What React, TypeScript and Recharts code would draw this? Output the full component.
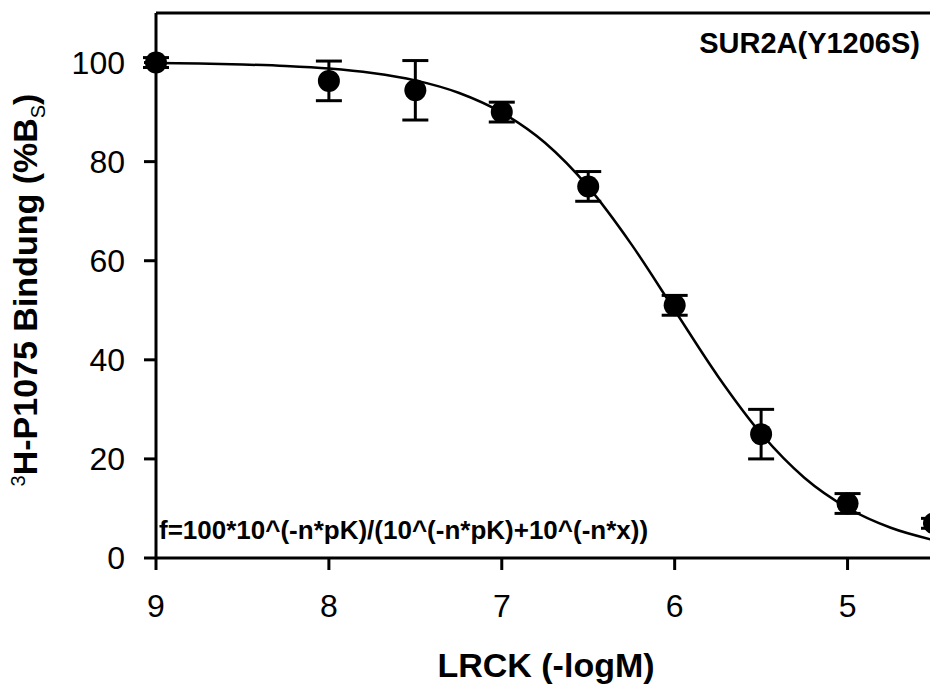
import React from 'react';
import { ComposedChart, Line, Scatter, XAxis, YAxis, ErrorBar, ReferenceLine } from 'recharts';

// measured points: -log concentration vs % specific binding (mean ± SEM)
const logConc = [9, 8, 7.5, 7, 6.5, 6, 5.5, 5, 4.5];
const binding = [100, 96.3, 94.4, 90, 75, 51, 25, 11, 7];
const sem = [1, 4, 6, 2, 3, 2, 5, 2, 1];

// fitted curve
const fitX = [9, 8.75, 8.5, 8.25, 8, 7.75, 7.5, 7.25, 7, 6.75, 6.5, 6.25, 6, 5.75, 5.5, 5.25, 5, 4.75, 4.5];
const fitY = [99.9, 99.8, 99.6, 99.3, 98.8, 97.9, 96.4, 93.9, 89.9, 83.8, 74.9, 63.3, 50, 36.7, 25.1, 16.2, 10.1, 6.1, 3.6];

const xTicks = [9, 8, 7, 6, 5];
const yTicks = [0, 20, 40, 60, 80, 100];

const points = logConc.map((x, i) => ({ x, y: binding[i], err: [sem[i], sem[i]] }));
const curve = fitX.map((x, i) => ({ x, y: fitY[i] }));

const FONT = '"Liberation Sans", Arial, sans-serif';

const Dot = (p: any) => <circle cx={p.cx} cy={p.cy} r={11} fill="#000" />;

const App = () => {
  return (
    <div style={{ position: 'absolute', left: 0, top: 0, width: 930, height: 684, overflow: 'hidden', background: '#fff' }}>
      <ComposedChart width={940} height={684} margin={{ top: 13, right: 6, bottom: 0, left: 0 }}>
        <XAxis
          dataKey="x"
          type="number"
          domain={[4.5, 9]}
          reversed
          ticks={xTicks}
          height={126}
          tickSize={12}
          tickMargin={24}
          axisLine={{ stroke: '#000', strokeWidth: 3 }}
          tickLine={{ stroke: '#000', strokeWidth: 3 }}
          tick={{ fill: '#000', fontSize: 32, fontFamily: FONT }}
        />
        <YAxis
          type="number"
          domain={[0, 110]}
          ticks={yTicks}
          width={156}
          tickSize={12}
          tickMargin={19}
          axisLine={{ stroke: '#000', strokeWidth: 3 }}
          tickLine={{ stroke: '#000', strokeWidth: 3 }}
          tick={{ fill: '#000', fontSize: 32, fontFamily: FONT }}
        />
        <ReferenceLine y={110} stroke="#000" strokeWidth={3} />
        <ReferenceLine x={4.5} stroke="#000" strokeWidth={3} />
        <Line
          data={curve}
          dataKey="y"
          type="monotone"
          stroke="#000"
          strokeWidth={2.5}
          dot={false}
          isAnimationActive={false}
        />
        <Scatter data={points} dataKey="y" fill="#000" shape={Dot} isAnimationActive={false}>
          <ErrorBar dataKey="err" direction="y" width={13} stroke="#000" strokeWidth={3} isAnimationActive={false} />
        </Scatter>
        <text x={920} y={53} textAnchor="end" fontFamily={FONT} fontWeight="bold" fontSize={29} fill="#000">
          SUR2A(Y1206S)
        </text>
        <text x={159} y={539} fontFamily={FONT} fontWeight="bold" fontSize={26} fill="#000">
          f=100*10^(-n*pK)/(10^(-n*pK)+10^(-n*x))
        </text>
        <text x={546} y={677} textAnchor="middle" fontFamily={FONT} fontWeight="bold" fontSize={34} fill="#000">
          LRCK (-logM)
        </text>
        <text
          x={37}
          y={290}
          transform="rotate(-90, 37, 290)"
          textAnchor="middle"
          fontFamily={FONT}
          fontWeight="bold"
          fontSize={34}
          fill="#000"
        >
          <tspan fontSize={20} fontWeight="normal" dy={-12}>3</tspan>
          <tspan dy={12}>H-P1075 Bindung (%B</tspan>
          <tspan fontSize={20} fontWeight="normal" dy={8}>S</tspan>
          <tspan dy={-8}>)</tspan>
        </text>
      </ComposedChart>
    </div>
  );
};

export default App;
